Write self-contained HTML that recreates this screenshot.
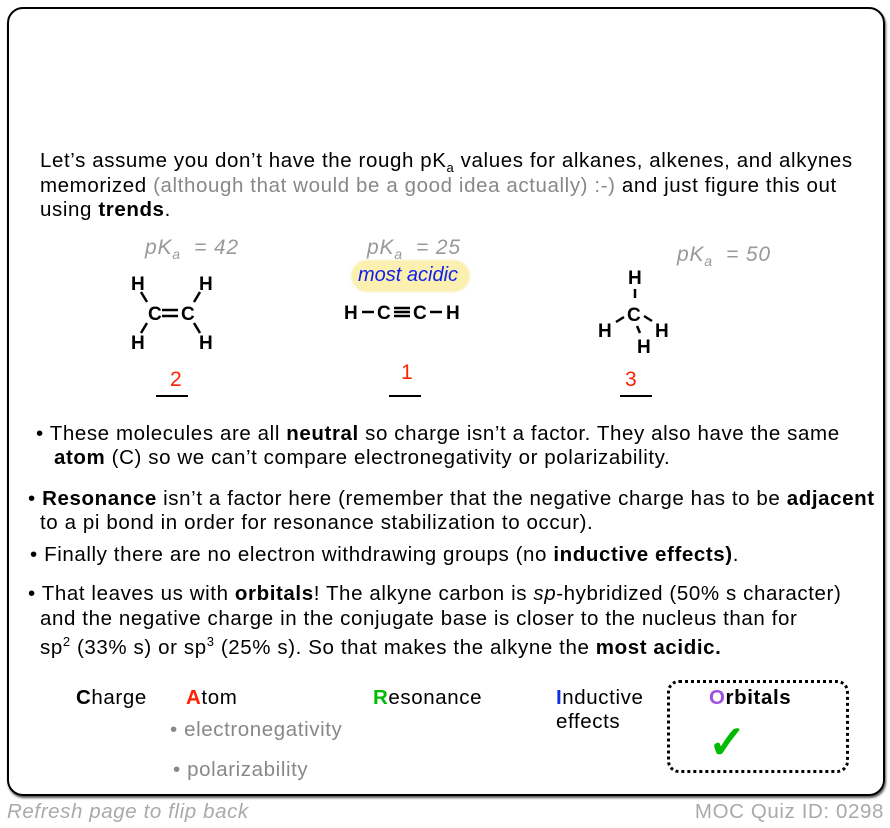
<!DOCTYPE html>
<html><head><style>
body{margin:0;width:890px;height:828px;background:#fff;font-family:"Liberation Sans",sans-serif;position:relative;overflow:hidden}
.card{position:absolute;left:7px;top:7px;width:874px;height:785px;border:2px solid #000;border-radius:16px;box-shadow:1px 2px 2px #555}
.t{position:absolute;font-size:20.5px;letter-spacing:0.6px;color:#000;white-space:nowrap;line-height:24px}
.g{color:#888}
.pk{position:absolute;font-size:21px;letter-spacing:0.8px;color:#999;font-style:italic}
.r{position:absolute;color:#f20;font-size:21px}
.ln{position:absolute;height:2px;width:32px;background:#000}
sub,sup{line-height:0}
</style></head><body>
<div class="card"></div>
<div class="t" style="left:40px;top:149px">Let’s assume you don’t have the rough pK<sub style="font-size:13px">a</sub> values for alkanes, alkenes, and alkynes</div>
<div class="t" style="left:40px;top:174px">memorized <span class="g">(although that would be a good idea actually) :-)</span> and just figure this out</div>
<div class="t" style="left:40px;top:198px">using <b>trends</b>.</div>

<div class="pk" style="left:145px;top:236px">pK<sub style="font-size:14px">a</sub>&nbsp; = 42</div>
<div class="pk" style="left:367px;top:236px">pK<sub style="font-size:14px">a</sub>&nbsp; = 25</div>
<div class="pk" style="left:677px;top:243px">pK<sub style="font-size:14px">a</sub>&nbsp; = 50</div>

<div style="position:absolute;left:352px;top:261px;width:117px;height:30px;background:#fbf0b0;border-radius:15px;box-shadow:0 0 3px #f4e48a"></div>
<div style="position:absolute;left:358px;top:264px;font-size:20px;color:#1020ee;font-style:italic">most acidic</div>

<svg width="890" height="828" style="position:absolute;left:0;top:0" font-family="Liberation Sans" font-weight="bold" font-size="19">
<g stroke="#000" stroke-width="2.5">
<line x1="141" y1="292" x2="147" y2="302"/><line x1="200" y1="292" x2="194" y2="302"/>
<line x1="141" y1="333" x2="147" y2="323"/><line x1="200" y1="333" x2="194" y2="323"/>
<line x1="162" y1="310" x2="178" y2="310"/><line x1="162" y1="316" x2="178" y2="316"/>
<line x1="362" y1="312" x2="374" y2="312"/><line x1="394" y1="308" x2="410" y2="308"/><line x1="394" y1="312" x2="410" y2="312"/><line x1="394" y1="316" x2="410" y2="316"/><line x1="430" y1="312" x2="442" y2="312"/>
<line x1="635" y1="289" x2="635" y2="298"/><line x1="616" y1="322" x2="624" y2="317"/><line x1="644" y1="316" x2="652" y2="321"/><line x1="637" y1="326" x2="640" y2="333"/>
</g>
<text x="131" y="290">H</text><text x="199" y="290">H</text>
<text x="148" y="320">C</text><text x="181" y="320">C</text>
<text x="131" y="349">H</text><text x="199" y="349">H</text>
<text x="344" y="319">H</text><text x="377" y="319">C</text><text x="413" y="319">C</text><text x="446" y="319">H</text>
<text x="628" y="284">H</text><text x="627" y="321">C</text><text x="598" y="337">H</text><text x="655" y="337">H</text><text x="637" y="353">H</text>
</svg>

<div class="r" style="left:170px;top:368px">2</div>
<div class="r" style="left:401px;top:361px">1</div>
<div class="r" style="left:625px;top:368px">3</div>
<div class="ln" style="left:156px;top:395px"></div>
<div class="ln" style="left:389px;top:395px"></div>
<div class="ln" style="left:620px;top:395px"></div>

<div class="t" style="left:36px;top:422px">• These molecules are all <b>neutral</b> so charge isn’t a factor. They also have the same</div>
<div class="t" style="left:54px;top:446px"><b>atom</b> (C) so we can’t compare electronegativity or polarizability.</div>
<div class="t" style="left:28px;top:487px">• <b>Resonance</b> isn’t a factor here (remember that the negative charge has to be <b>adjacent</b></div>
<div class="t" style="left:40px;top:511px">to a pi bond in order for resonance stabilization to occur).</div>
<div class="t" style="left:30px;top:543px">• Finally there are no electron withdrawing groups (no <b>inductive effects)</b>.</div>
<div class="t" style="left:28px;top:582px">• That leaves us with <b>orbitals</b>! The alkyne carbon is <i>sp</i>-hybridized (50% s character)</div>
<div class="t" style="left:40px;top:607px">and the negative charge in the conjugate base is closer to the nucleus than for</div>
<div class="t" style="left:40px;top:636px">sp<sup style="font-size:13px">2</sup> (33% s) or sp<sup style="font-size:13px">3</sup> (25% s). So that makes the alkyne the <b>most acidic.</b></div>

<div class="t" style="left:76px;top:686px"><b>C</b>harge</div>
<div class="t" style="left:186px;top:686px"><b style="color:#f20">A</b>tom</div>
<div class="t g" style="left:170px;top:718px">• electronegativity</div>
<div class="t g" style="left:173px;top:758px">• polarizability</div>
<div class="t" style="left:373px;top:686px"><b style="color:#0b0">R</b>esonance</div>
<div class="t" style="left:556px;top:686px"><b style="color:#1030e0">I</b>nductive<br>effects</div>
<div style="position:absolute;left:667px;top:680px;width:176px;height:87px;border:3px dotted #000;border-radius:12px"></div>
<div class="t" style="left:709px;top:686px"><b><span style="color:#a050e0">O</span>rbitals</b></div>
<div style="position:absolute;left:708px;top:718px;font-size:46px;color:#0b0;font-weight:bold;line-height:48px">✓</div>

<div style="position:absolute;left:7px;top:800px;font-size:20.5px;letter-spacing:0.6px;color:#aaa;font-style:italic">Refresh page to flip back</div>
<div style="position:absolute;right:6px;top:800px;font-size:20.5px;letter-spacing:0.6px;color:#aaa">MOC Quiz ID: 0298</div>
</body></html>
